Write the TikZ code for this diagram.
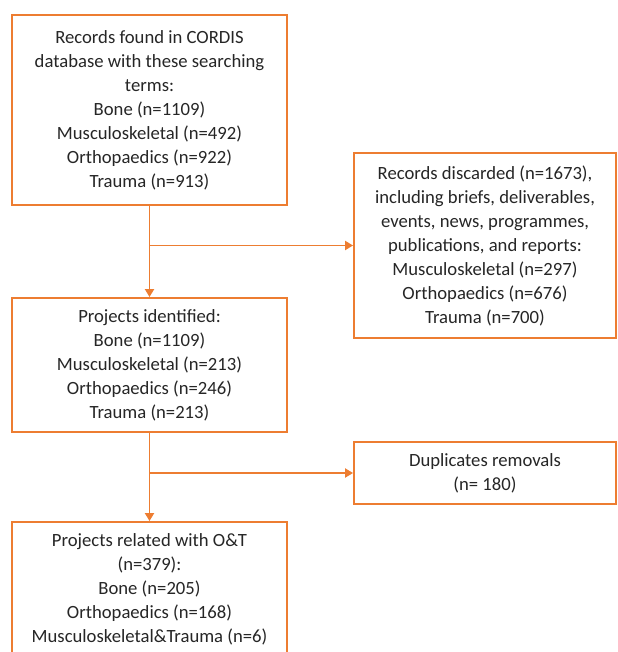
\documentclass[tikz,border=0pt]{standalone}
\usepackage{fontspec}
\setmainfont{Carlito}
\definecolor{accent}{RGB}{237,125,49}
\definecolor{ink}{RGB}{38,38,38}
\usetikzlibrary{arrows.meta,positioning}
\tikzset{
  box/.style={draw=accent, line width=1.5pt, fill=white, text=ink, inner sep=0pt,
              font=\fontsize{14pt}{18pt}\selectfont, align=center},
  wide/.style={minimum width=206.25pt},
  side/.style={minimum width=196.5pt},
  link/.style={accent, line width=0.8pt},
  flow/.style={-{Triangle[length=6pt,width=7pt]}, accent, line width=0.8pt},
}
\begin{document}
\begin{tikzpicture}[x=0.75pt,y=-0.75pt]
    \useasboundingbox (0,0) rectangle (617,652);
    % --- main column ---
    \node[box,wide,minimum height=142.5pt] (records) at (149.5,110)
      {Records found in CORDIS\\database with these searching\\terms:\\Bone (n=1109)\\Musculoskeletal (n=492)\\Orthopaedics (n=922)\\Trauma (n=913)};
    \node[box,wide,minimum height=100.5pt] (identified) at (149.5,365)
      {Projects identified:\\Bone (n=1109)\\Musculoskeletal (n=213)\\Orthopaedics (n=246)\\Trauma (n=213)};
    \node[box,wide,minimum height=100.5pt] (related) at (149.5,589)
      {Projects related with O\&T\\(n=379):\\Bone (n=205)\\Orthopaedics (n=168)\\Musculoskeletal\&Trauma (n=6)};
    % --- side boxes ---
    \node[box,side,minimum height=138.75pt] (discarded) at (485,245.5)
      {Records discarded (n=1673),\\including briefs, deliverables,\\events, news, programmes,\\publications, and reports:\\Musculoskeletal (n=297)\\Orthopaedics (n=676)\\Trauma (n=700)};
    \node[box,side,minimum height=46.5pt] (duplicates) at (485,473)
      {Duplicates removals\\(n= 180)};
    % --- connectors ---
    \coordinate (split1) at (records.south |- discarded.west);
    \coordinate (split2) at (identified.south |- duplicates.west);
    \draw[flow] (records.south) -- (identified.north);
    \draw[flow] (split1) -- (discarded.west);
    \draw[flow] (identified.south) -- (related.north);
    \draw[flow] (split2) -- (duplicates.west);
\end{tikzpicture}
\end{document}
